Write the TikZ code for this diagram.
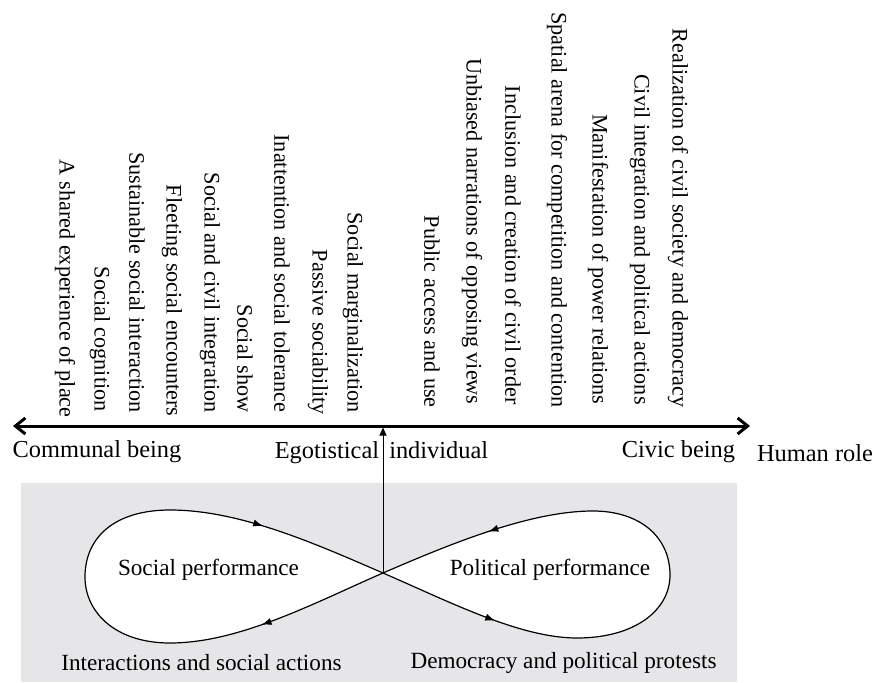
\documentclass[tikz,border=0pt]{standalone}
\usepackage{fontspec}
\setmainfont{Liberation Serif}
\usepackage{tikz}
\usetikzlibrary{arrows.meta, positioning, decorations.markings}
\definecolor{panelgray}{RGB}{230,229,231}

\begin{document}
\begin{tikzpicture}[
  x=0.5pt, y=0.5pt,
  vlabel/.style={rotate=-90, anchor=east, inner sep=0pt, font=\fontsize{11.1}{13}\selectfont},
  role/.style={inner sep=0pt, font=\fontsize{12.2}{14}\selectfont},
  perf/.style={inner sep=0pt, font=\fontsize{11.6}{14}\selectfont},
  axisline/.style={{Straight Barb[length=5pt,width=8pt]}-{Straight Barb[length=5pt,width=8pt]}, line width=1.5pt},
  uparrow/.style={-{Triangle[length=4pt,width=3.5pt]}, line width=0.5pt},
  loopline/.style={line width=0.6pt, fill=white, postaction={decorate},
    decoration={markings,
      mark=at position 0.09 with {\arrow{Latex[length=5pt,width=3.6pt]}},
      mark=at position 0.406 with {\arrow{Latex[length=5pt,width=3.6pt]}},
      mark=at position 0.587 with {\arrow{Latex[length=5pt,width=3.6pt]}},
      mark=at position 0.905 with {\arrow{Latex[length=5pt,width=3.6pt]}}}},
]
\useasboundingbox (0,0) rectangle (884,682);

% Grey panel
\fill[panelgray] (21,0) rectangle (737,199);

% Axis
\coordinate (leftend) at (13,256);
\coordinate (rightend) at (750,256);
\coordinate (hub) at (383,256);
\coordinate (cross) at (383,109);
\draw[axisline] (leftend) -- (rightend);

% Roles on the axis
\node[role] (communal) at (97,230) {Communal being};
\node[role] (egotist) at (381.5,229) {Egotistical\hspace{2pt} individual};
\node[role] (civic) at (678.5,230) {Civic being};
\node[role] (humanrole) at (815,229) {Human role};

% Social side
\node[vlabel] (shared) at (65,264) {A shared experience of place};
\node[vlabel] (cognition) at (100,270) {Social cognition};
\node[vlabel] (sustain) at (137,269) {Sustainable social interaction};
\node[vlabel] (fleeting) at (172,265) {Fleeting social encounters};
\node[vlabel] (integr) at (210,269) {Social and civil integration};
\node[vlabel] (show) at (245,269) {Social show};
\node[vlabel] (inatt) at (282,269) {Inattention and social tolerance};
\node[vlabel] (passive) at (318,267) {Passive sociability};
\node[vlabel] (margin) at (353,269) {Social marginalization};

% Political side
\node[vlabel] (access) at (432,274) {Public access and use};
\node[vlabel] (unbiased) at (472,277) {Unbiased narrations of opposing views};
\node[vlabel] (inclusion) at (513,277) {Inclusion and creation of civil order};
\node[vlabel] (arena) at (557,274) {Spatial arena for competition and contention};
\node[vlabel] (power) at (598,277) {Manifestation of power relations};
\node[vlabel] (civint) at (640,277) {Civil integration and political actions};
\node[vlabel] (realize) at (678,274) {Realization of civil society and democracy};

% Figure-eight loop
\draw[loopline] (cross)
  .. controls (450,80) and (520,44) .. (577,44)
  .. controls (635,44) and (670,72) .. (670,107)
  .. controls (670,145) and (640,171) .. (593,171)
  .. controls (530,171) and (450,138) .. (cross)
  .. controls (316,80) and (240,39) .. (170,39)
  .. controls (115,39) and (85,70) .. (85,105)
  .. controls (85,145) and (115,172) .. (170,172)
  .. controls (240,172) and (316,138) .. (cross);

% Link up to the axis
\draw[uparrow, shorten >=0.75pt] (cross) -- (hub);

% Loop texts
\node[perf] (socperf) at (208.5,112) {Social performance};
\node[perf] (polperf) at (550,112) {Political performance};
\node[perf] (interact) at (201.5,19) {Interactions and social actions};
\node[perf] (protest) at (563.5,19) {Democracy and political protests};

\end{tikzpicture}
\end{document}
